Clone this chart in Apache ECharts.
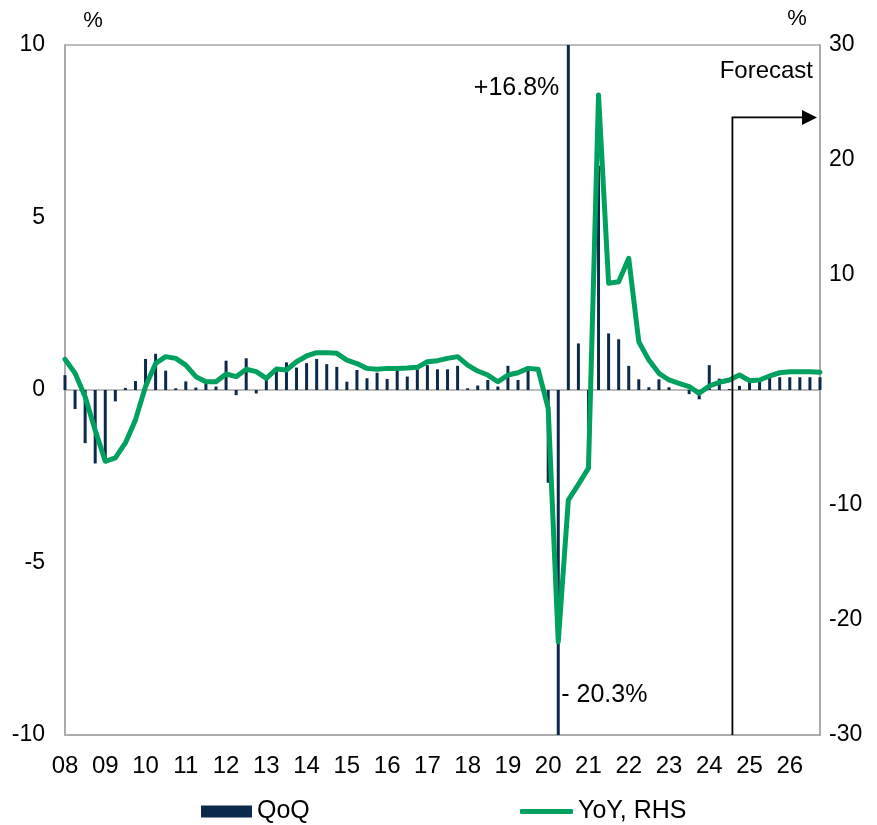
<!DOCTYPE html>
<html><head><meta charset="utf-8">
<script src="https://cdn.jsdelivr.net/npm/echarts@6/dist/echarts.min.js"></script>
<style>html,body{margin:0;padding:0;background:#fff}#c{width:877px;height:825px}</style>
</head><body><div id="c"></div>
<script>
const years = ['08','09','10','11','12','13','14','15','16','17','18','19','20','21','22','23','24','25','26'];
const quarters = ['Q1','Q2','Q3','Q4'];
const qoq = [
  0.43,-0.55,-1.54,-2.13,
  -2.05,-0.33,0.06,0.26,
  0.90,1.05,0.56,0.05,
  0.25,0.07,0.20,0.10,
  0.85,-0.15,0.92,-0.10,
  0.35,0.63,0.80,0.65,
  0.78,0.90,0.75,0.67,
  0.24,0.58,0.34,0.50,
  0.32,0.55,0.39,0.60,
  0.72,0.60,0.60,0.70,
  0.05,0.13,0.29,0.10,
  0.70,0.29,0.68,0.00,
  -2.69,-20.3,16.8,1.35,
  -1.10,6.50,1.64,1.47,
  0.70,0.31,0.08,0.31,
  0.08,0.00,-0.12,-0.27,
  0.72,0.33,0.03,0.12,
  0.26,0.26,0.37,0.37,
  0.37,0.37,0.37,0.37
];
const yoy = [
  2.67,1.45,-0.58,-3.5,
  -6.2,-5.9,-4.6,-2.6,
  0.3,2.3,2.9,2.75,
  2.17,1.16,0.72,0.72,
  1.39,1.16,1.8,1.6,
  1.01,1.83,1.74,2.46,
  2.96,3.25,3.25,3.19,
  2.6,2.3,1.88,1.8,
  1.88,1.88,1.91,1.97,
  2.46,2.55,2.75,2.9,
  2.17,1.65,1.3,0.72,
  1.3,1.5,1.88,1.8,
  -1.6,-21.9,-9.57,-8.2,
  -6.8,25.65,9.28,9.42,
  11.45,4.2,2.6,1.45,
  0.87,0.58,0.29,-0.29,
  0.35,0.67,0.87,1.3,
  0.81,0.87,1.22,1.5,
  1.58,1.58,1.58,1.55
];
const categories = years.flatMap(y => quarters.map(q => '20' + y + q));
const forecastStart = 66.3;      // category position where forecast begins
const forecastArrowLevel = 7.9;  // left-axis level of the arrow
const peakLabel = '+16.8%';
const troughLabel = '- 20.3%';

const FONT = "'Liberation Sans', Arial, sans-serif";
const FS = 23;
const GRAY = '#a6a6a6';
const NAVY = '#0b2a4b';
const GREEN = '#00a05e';

const chart = echarts.init(document.getElementById('c'));
chart.setOption({
  animation: false,
  backgroundColor: '#fff',
  textStyle: { fontFamily: FONT },
  grid: { left: 65, right: 57, top: 45, bottom: 90, show: true, borderColor: GRAY, borderWidth: 1.5, backgroundColor: 'transparent' },
  legend: [
    { data: ['QoQ'], left: 201, top: 799, padding: 0, itemWidth: 51, itemHeight: 12, icon: 'rect', itemGap: 0,
      textStyle: { fontFamily: FONT, fontSize: 25, color: '#000' } },
    { data: ['YoY, RHS'], left: 520, top: 799, padding: 0, itemWidth: 53, itemHeight: 5, icon: 'roundRect', itemGap: 0,
      textStyle: { fontFamily: FONT, fontSize: 25, color: '#000' } }
  ],
  xAxis: [
    { type: 'category', data: categories, boundaryGap: false,
      axisLine: { show: true, onZero: false, lineStyle: { color: GRAY, width: 1.5 } },
      axisTick: { show: false },
      axisLabel: { interval: (i) => i % 4 === 0, formatter: (v) => v.slice(2, 4), color: '#000', fontSize: 24, fontFamily: FONT, margin: 19 },
      splitLine: { show: false } },
    { type: 'category', data: categories, boundaryGap: false, position: 'top',
      axisLine: { show: true, onZero: true, lineStyle: { color: GRAY, width: 1.5 } },
      axisTick: { show: false }, axisLabel: { show: false }, splitLine: { show: false } }
  ],
  yAxis: [
    { type: 'value', min: -10, max: 10, interval: 5, position: 'left',
      axisLine: { show: true, lineStyle: { color: GRAY, width: 1.5 } }, axisTick: { show: false },
      splitLine: { show: false },
      axisLabel: { color: '#000', fontSize: FS, fontFamily: FONT, margin: 20 } },
    { type: 'value', min: -30, max: 30, interval: 10, position: 'right',
      axisLine: { show: true, lineStyle: { color: GRAY, width: 1.5 } }, axisTick: { show: false },
      splitLine: { show: false },
      axisLabel: { color: '#000', fontSize: FS, fontFamily: FONT, margin: 9, formatter: (v) => v === 0 ? '' : String(v) } }
  ],
  series: [
    { name: 'QoQ', type: 'bar', data: qoq, xAxisIndex: 0, yAxisIndex: 0, barWidth: 3,
      itemStyle: { color: NAVY }, clip: true, z: 2 },
    { name: 'YoY, RHS', type: 'line', data: yoy, xAxisIndex: 0, yAxisIndex: 1, symbol: 'none', smooth: false,
      lineStyle: { color: GREEN, width: 5, cap: 'round', join: 'round' }, itemStyle: { color: GREEN }, z: 3 }
  ]
});

function px(idx) {
  const a = chart.convertToPixel({ xAxisIndex: 0 }, Math.floor(idx));
  const b = chart.convertToPixel({ xAxisIndex: 0 }, Math.ceil(idx));
  return a + (b - a) * (idx - Math.floor(idx));
}
const yL = (v) => chart.convertToPixel({ yAxisIndex: 0 }, v);
const fx = px(forecastStart);
const yBot = yL(-10), yTop = yL(10);
const xRight = px(categories.length - 1);
const ay = yL(forecastArrowLevel);
const xPeak = px(50), xTrough = px(49);
const xLeft = px(0);
const txt = (size, align) => ({ font: size + 'px ' + FONT, fill: '#000', align: align, verticalAlign: 'middle', textAlign: align, textVerticalAlign: 'middle' });

chart.setOption({
  graphic: [
    { type: 'polyline', shape: { points: [[fx, yBot], [fx, ay], [xRight - 17, ay]] },
      style: { stroke: '#000', lineWidth: 1.8, fill: null }, z: 10 },
    { type: 'polygon', shape: { points: [[xRight - 18, ay - 7.5], [xRight - 3, ay], [xRight - 18, ay + 7.5]] },
      style: { fill: '#000' }, z: 10 },
    { type: 'text', x: xRight - 7, y: yTop + 26, z: 10, style: Object.assign({ text: 'Forecast' }, txt(24, 'right')) },
    { type: 'text', x: xPeak - 9, y: yL(8.75), z: 10, style: Object.assign({ text: peakLabel }, txt(25, 'right')) },
    { type: 'text', x: xTrough + 3, y: yL(-8.84), z: 10, style: Object.assign({ text: troughLabel }, txt(25, 'left')) },
    { type: 'text', x: xLeft + 28, y: yTop - 24, z: 10, style: Object.assign({ text: '%' }, txt(22, 'center')) },
    { type: 'text', x: xRight - 23, y: yTop - 26, z: 10, style: Object.assign({ text: '%' }, txt(22, 'center')) }
  ]
});
</script></body></html>
